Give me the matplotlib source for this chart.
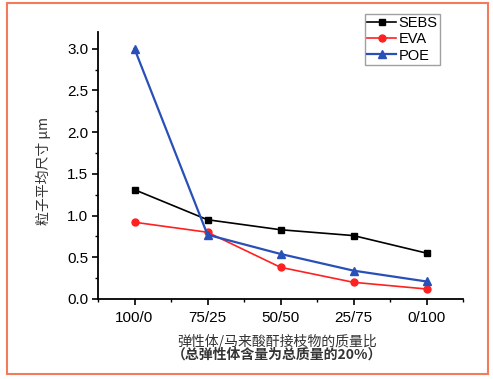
import numpy as np
import matplotlib
matplotlib.use("Agg")
import matplotlib.pyplot as plt
from matplotlib.patches import Rectangle

plt.rcParams['font.family'] = ['Liberation Sans', 'Noto Sans CJK SC', 'DejaVu Sans']

# ratios elastomer / maleic anhydride graft
ratios = ["100/0", "75/25", "50/50", "25/75", "0/100"]
sebs = [1.31, 0.95, 0.83, 0.76, 0.55]
eva = [0.92, 0.80, 0.38, 0.20, 0.12]
poe = [3.00, 0.77, 0.54, 0.34, 0.21]

fig = plt.figure(figsize=(4.93, 3.79), dpi=100)
ax = fig.add_axes([98/493, 1-299/379, 365/493, 267/379])

x = np.arange(len(ratios))
ax.plot(x, sebs, color="black", marker="s", ms=5, lw=1.2, label="SEBS")
ax.plot(x, eva, color="#ff2020", marker="o", ms=5, lw=1.2, label="EVA")
ax.plot(x, poe, color="#2850b8", marker="^", ms=6, lw=1.6, label="POE")

ax.set_xlim(-0.5, 4.5)
ax.set_ylim(0, 3.2)
ax.set_xticks(x)
ax.set_xticklabels(ratios)
ax.set_xticks(np.arange(-0.5, 4.6, 1.0), minor=True)
ax.set_yticks(np.arange(0, 3.01, 0.5))
ax.set_yticklabels(["%.1f" % v for v in np.arange(0, 3.01, 0.5)])
ax.set_yticks(np.arange(0.25, 3.2, 0.5), minor=True)
ax.tick_params(axis="both", which="major", direction="out", length=4, width=1.2, labelsize=11, pad=3)
ax.tick_params(axis="both", which="minor", direction="out", length=2.5, width=1)
ax.tick_params(axis="x", pad=5)
for s in ["top", "right"]:
    ax.spines[s].set_visible(False)
for s in ["left", "bottom"]:
    ax.spines[s].set_linewidth(1.3)

cjk = ['Noto Sans CJK SC', 'DejaVu Sans']
ax.set_ylabel("粒子平均尺寸 μm", family=cjk, fontsize=10, color="#333333")
ax.yaxis.set_label_coords(-0.128, 0.48)
fig.text(277/493, 1-341/379, "弹性体/马来酸酐接枝物的质量比", family=cjk, fontsize=10,
         ha="center", va="center", color="#333333")
fig.text(277/493, 1-355/379, "（总弹性体含量为总质量的20%）", family=cjk, fontsize=10,
         ha="center", va="center", color="#333333", fontweight="bold")

leg = fig.legend(loc="upper left", bbox_to_anchor=(365/493, 1-14/379), fontsize=10.5,
                 frameon=True, fancybox=False, edgecolor="#888888", borderpad=0.15,
                 handlelength=2.0, handletextpad=0.15, labelspacing=0.15, borderaxespad=0)
leg.get_frame().set_linewidth(1.0)

fig.add_artist(Rectangle((7/493, 1-374/379), 481/493, 371/379, transform=fig.transFigure,
                         fill=False, edgecolor="#f47a5c", lw=1.5))

fig.savefig("out.png", dpi=100)
